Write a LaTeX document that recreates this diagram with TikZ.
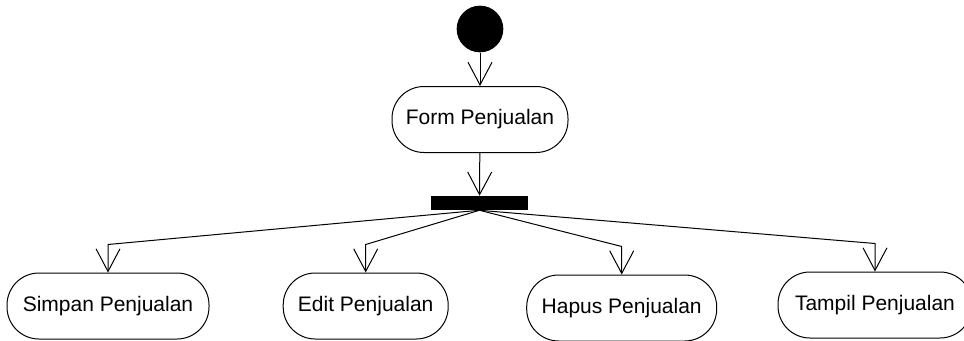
\documentclass[tikz,border=0pt]{standalone}
\usepackage{fontspec}
\setmainfont{Liberation Sans}
\usepackage{tikz}
\usetikzlibrary{arrows.meta,positioning,calc}

\begin{document}
\begin{tikzpicture}[
    x=0.75pt, y=0.75pt,
    action/.style={rectangle, draw, line width=0.75pt, rounded corners=24pt, minimum height=49.5pt, inner sep=0pt, align=center, font=\fontsize{15.75}{18}\selectfont},
    startdot/.style={circle, fill=black, minimum size=35pt, inner sep=0pt},
    forkbar/.style={rectangle, fill=black, minimum width=72.75pt, minimum height=10.5pt, inner sep=0pt},
    flow/.style={-{Straight Barb[length=17pt,width=18pt]}, line width=0.75pt}
]
\useasboundingbox (0,0) rectangle (964,340);
\clip (0,0) rectangle (964,340);

\node[startdot] (start) at (480,311) {};
\node[action, minimum width=132pt] (form) at (480,220.5) {Form Penjualan};
\draw[flow] (start) -- (form);

\node[forkbar] (fork) at (479.5,137) {};
\draw[flow] (form) -- (fork);

% aksi hasil percabangan
\node[action, minimum width=151.5pt] (simpan) at (108,34) {Simpan Penjualan};
\node[action, minimum width=123.75pt] (edit) at (365.7,34) {Edit Penjualan};
\node[action, minimum width=142.5pt] (hapus) at (621.7,32) {Hapus Penjualan};
\node[action, minimum width=145.5pt] (tampil) at (875,35) {Tampil Penjualan};

\draw[flow] (fork.south) -- ([yshift=21pt]simpan.north) -- (simpan.north);
\draw[flow] (fork.south) -- ([yshift=21pt]edit.north) -- (edit.north);
\draw[flow] (fork.south) -- ([yshift=21pt]hapus.north) -- (hapus.north);
\draw[flow] (fork.south) -- ([yshift=21pt]tampil.north) -- (tampil.north);
\end{tikzpicture}
\end{document}
